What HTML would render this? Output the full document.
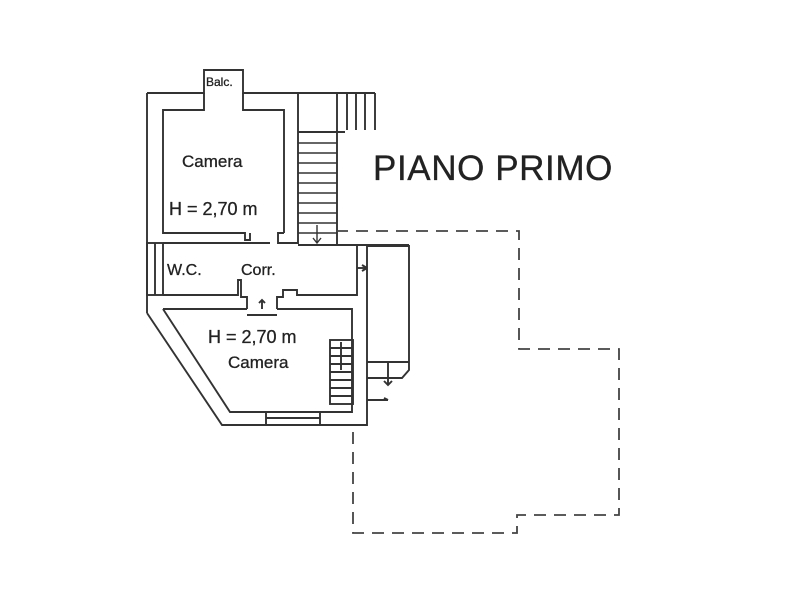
<!DOCTYPE html>
<html><head><style>body{margin:0;background:#fff}svg{display:block}</style></head><body>
<svg width="800" height="600" viewBox="0 0 800 600" xmlns="http://www.w3.org/2000/svg" font-family="Liberation Sans, sans-serif">
<rect width="800" height="600" fill="#fff"/>
<g fill="none" stroke="#333" stroke-width="1.9">
<polyline points="147,93 204,93 204,70 243,70 243,93 375,93"/>
<line x1="147" y1="93" x2="147" y2="313"/>
<polyline points="147,313 222,425 367,425 367,246"/>
<polyline points="243,93 243,110 284,110 284,233"/>
<polyline points="204,93 204,110 163,110 163,233 245,233 245,240 250,240 250,233"/>
<polyline points="284,233 278,233 278,243 298,243 298,93"/>
<line x1="337" y1="93" x2="337" y2="245"/>
<line x1="298" y1="132" x2="345" y2="132"/>
<line x1="347" y1="93" x2="347" y2="130"/><line x1="356" y1="93" x2="356" y2="130"/>
<line x1="365" y1="93" x2="365" y2="130"/><line x1="375" y1="93" x2="375" y2="130"/>
<g stroke-width="1.4">
<line x1="298" y1="143" x2="337" y2="143"/><line x1="298" y1="153" x2="337" y2="153"/>
<line x1="298" y1="163" x2="337" y2="163"/><line x1="298" y1="173" x2="337" y2="173"/>
<line x1="298" y1="183" x2="337" y2="183"/><line x1="298" y1="193" x2="337" y2="193"/>
<line x1="298" y1="203" x2="337" y2="203"/><line x1="298" y1="213" x2="337" y2="213"/>
<line x1="298" y1="223" x2="337" y2="223"/><line x1="298" y1="233" x2="337" y2="233"/>
<line x1="317" y1="225" x2="317" y2="243"/><polyline points="313,238 317,243 321,238"/>
</g>
<line x1="298" y1="245" x2="409" y2="245"/>
<line x1="163" y1="243" x2="270" y2="243"/>
<rect x="147" y="243" width="16" height="52"/>
<line x1="155" y1="243" x2="155" y2="295"/>
<polyline points="163,295 238,295 238,280 241,280 241,297 247,297 247,309"/>
<polyline points="277,309 277,297 283,297 283,290 297,290 297,295 357,295 357,246"/>
<line x1="163" y1="309" x2="247" y2="309"/>
<line x1="247" y1="315" x2="277" y2="315"/>
<polyline points="163,309 230,412 352,412 352,309 277,309"/>
<line x1="362" y1="265" x2="367" y2="268"/><line x1="357" y1="268" x2="367" y2="268"/><line x1="362" y1="271" x2="367" y2="268"/>
<line x1="262" y1="309" x2="262" y2="300"/><polyline points="259,303 262,300 265,303"/>
<polyline points="367,246 409,246 409,370 402,378 367,378"/>
<line x1="367" y1="362" x2="409" y2="362"/>
<line x1="388" y1="362" x2="388" y2="385"/><polyline points="384,381 388,385 392,381"/>
<line x1="367" y1="400" x2="388" y2="400"/><line x1="384" y1="398" x2="388" y2="400"/>
<rect x="330" y="340" width="23" height="64"/>
<line x1="330" y1="348" x2="353" y2="348"/><line x1="330" y1="356" x2="353" y2="356"/>
<line x1="330" y1="364" x2="353" y2="364"/><line x1="330" y1="372" x2="353" y2="372"/>
<line x1="330" y1="380" x2="353" y2="380"/><line x1="330" y1="388" x2="353" y2="388"/>
<line x1="330" y1="396" x2="353" y2="396"/>
<line x1="341" y1="342" x2="341" y2="370"/>
<rect x="266" y="412" width="54" height="13"/>
<line x1="266" y1="418" x2="320" y2="418"/>
</g>
<polyline points="336,231 519,231 519,349 619,349 619,515 517,515 517,533 353,533 353,425" fill="none" stroke="#444" stroke-width="1.8" stroke-dasharray="12,8"/>
<g fill="#222" stroke="#222" stroke-width="0.3">
<text x="206" y="86" font-size="12">Balc.</text>
<text x="182" y="167" font-size="17">Camera</text>
<text x="169" y="215" font-size="18">H = 2,70 m</text>
<text x="167" y="275" font-size="16">W.C.</text>
<text x="241" y="275" font-size="16">Corr.</text>
<text x="208" y="343" font-size="18">H = 2,70 m</text>
<text x="228" y="368" font-size="17">Camera</text>
<text x="373" y="180" font-size="35" letter-spacing="0.6">PIANO PRIMO</text>
</g>
</svg>
</body></html>
